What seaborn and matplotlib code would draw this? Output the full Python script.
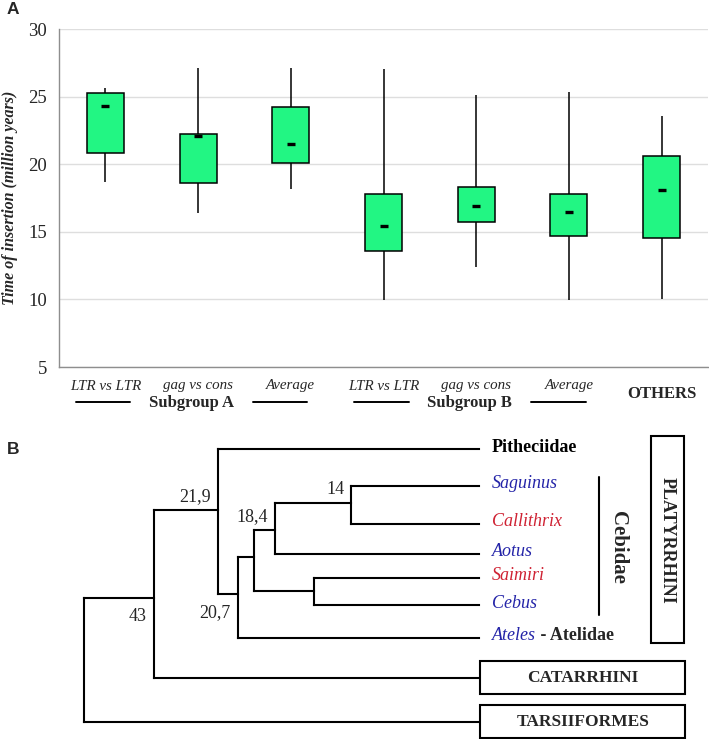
import numpy as np
import pandas as pd
import matplotlib
matplotlib.use("Agg")
import matplotlib.pyplot as plt
import matplotlib.transforms as mtransforms
from matplotlib.patches import Rectangle
import seaborn as sns

# ---------------------------------------------------------
# Panel A data (million years)
# ---------------------------------------------------------
cat_keys = ["A_ltr", "A_gag", "A_avg", "B_ltr", "B_gag", "B_avg", "others"]
cat_labels = ["LTR vs LTR", "gag vs cons", "Average",
              "LTR vs LTR", "gag vs cons", "Average", "OTHERS"]
t_min = [18.7, 16.4, 18.2, 9.93, 12.43, 9.93, 10.0]
t_q1 = [20.8, 18.6, 20.07, 13.55, 15.69, 14.7, 14.53]
t_mean = [24.3, 22.05, 21.48, 15.4, 16.9, 16.48, 18.1]
t_q3 = [25.25, 22.2, 24.2, 17.83, 18.28, 17.83, 20.62]
t_max = [25.65, 27.1, 27.1, 27.05, 25.15, 25.35, 23.57]
group_names = ["Subgroup A", "Subgroup B"]
group_members = [[0, 1, 2], [3, 4, 5]]

# ---------------------------------------------------------
# Panel B data (cladogram, drawn in figure-pixel units)
# ---------------------------------------------------------
tip_names = ["Pitheciidae", "Saguinus", "Callithrix", "Aotus", "Saimiri",
             "Cebus", "Ateles", "CATARRHINI", "TARSIIFORMES"]
tip_rows = [449, 486, 524, 554, 578, 605, 638, 678, 722]
tip_colors = ["black", "#2424a8", "#cf2233", "#2424a8", "#cf2233",
              "#2424a8", "#2424a8", "black", "black"]
node_names = ["n14", "n18", "nSC", "nCeb", "n20", "n21", "n43", "root"]
node_depth = [351, 275, 314, 254, 238, 218, 154, 84]
node_rows = [503, 530, 591, 557, 594, 510, 598, None]
node_children = [["Saguinus", "Callithrix"], ["n14", "Aotus"],
                 ["Saimiri", "Cebus"], ["n18", "nSC"], ["nCeb", "Ateles"],
                 ["Pitheciidae", "n20"], ["n21", "CATARRHINI"],
                 ["n43", "TARSIIFORMES"]]
node_ages = ["14", "18,4", "", "", "20,7", "21,9", "43", ""]
age_side = ["above", "above", "", "", "below", "above", "below", ""]
TIP_X = 479

# ---------------------------------------------------------
# Style
# ---------------------------------------------------------
sns.set_style("white")
plt.rcParams["font.family"] = ["Liberation Serif", "DejaVu Serif"]
GREEN = "#22f683"
GREY = "#8e8e8e"

W, H = 709, 739
fig = plt.figure(figsize=(W / 100, H / 100), dpi=100)

# ---------------------------------------------------------
# Panel A: boxes built from the five read values per category
# ---------------------------------------------------------
rows = []
for k, a, b, m, c, d in zip(cat_keys, t_min, t_q1, t_mean, t_q3, t_max):
    for v in (a, b, m, c, d):
        rows.append({"cat": k, "value": v})
df = pd.DataFrame(rows)

ax = fig.add_axes([59 / W, 1 - 367 / H, 649 / W, 338 / H])
sns.boxplot(data=df, x="cat", y="value", order=cat_keys, whis=(0, 100),
            width=0.4, color=GREEN, saturation=1, linecolor="black",
            linewidth=1.1, showcaps=False, fliersize=0,
            medianprops={"visible": False}, ax=ax)
sns.scatterplot(x=np.arange(len(cat_keys)), y=t_mean, marker="_", s=40,
                color="black", linewidth=2.4, legend=False, zorder=5, ax=ax)

ax.set_ylim(5, 30)
ax.set_xlim(-0.5, len(cat_keys) - 0.5)
ax.set_yticks(range(5, 31, 5))
ax.set_xticks(range(len(cat_keys)))
ax.set_xticklabels(cat_labels[:-1] + [""], fontstyle="italic", fontsize=10.8)
ax.set_xticks(np.arange(-0.5, len(cat_keys), 1), minor=True)
ax.tick_params(axis="x", which="major", length=0, pad=9)
ax.tick_params(axis="x", which="minor", length=3.5, color=GREY, width=1)
ax.tick_params(axis="y", length=3.5, color=GREY, width=1, labelsize=13.5, pad=5)
ax.yaxis.grid(True, color="#dedede", lw=1)
ax.xaxis.grid(False)
ax.set_axisbelow(True)
for s in ["top", "right"]:
    ax.spines[s].set_visible(False)
for s in ["left", "bottom"]:
    ax.spines[s].set_color(GREY)
    ax.spines[s].set_linewidth(1)
ax.set_xlabel("")
ax.set_ylabel("Time of insertion (million years)", fontstyle="italic",
              fontweight="bold", fontsize=11.5)
ax.yaxis.set_label_coords(-0.063, 0.5)

trans = mtransforms.blended_transform_factory(ax.transData, ax.transAxes)
ax.text(len(cat_keys) - 1, -0.079, cat_labels[-1], transform=trans,
        ha="center", va="center", fontweight="bold", fontsize=12)
for name, members in zip(group_names, group_members):
    cx = np.mean(members) - 0.07
    ax.text(cx, -0.106, name, transform=trans, ha="center", va="center",
            fontweight="bold", fontsize=12)
    for sgn in (-1, 1):
        ax.plot([cx + sgn * 0.66, cx + sgn * 1.25], [-0.103, -0.103],
                transform=trans, color="black", lw=1.4, clip_on=False)

fig.text(7 / W, 1 - 9 / H, "A", family="Liberation Sans", fontweight="bold",
         fontsize=12.5, ha="left", va="center")

# ---------------------------------------------------------
# Panel B: cladogram
# ---------------------------------------------------------
ax2 = fig.add_axes([0, 0, 1, 325 / H])
ax2.set_xlim(0, W)
ax2.set_ylim(H, H - 325)
ax2.axis("off")

xpos = {n: TIP_X for n in tip_names}
ypos = dict(zip(tip_names, tip_rows))
for n, d, r in zip(node_names, node_depth, node_rows):
    xpos[n] = d
    ypos[n] = r

LW = 1.5
for n, kids in zip(node_names, node_children):
    x0 = xpos[n]
    ys = [ypos[k] for k in kids]
    ax2.plot([x0, x0], [min(ys), max(ys)], color="black", lw=LW,
             solid_capstyle="projecting")
    for k in kids:
        ax2.plot([x0, xpos[k]], [ypos[k], ypos[k]], color="black", lw=LW,
                 solid_capstyle="projecting")

for n, age, side in zip(node_names, node_ages, age_side):
    if not age:
        continue
    if side == "above":
        ax2.annotate(age, (xpos[n], ypos[n]), xytext=(-5, 6.5),
                     textcoords="offset points", ha="right", va="baseline",
                     fontsize=13)
    else:
        ax2.annotate(age, (xpos[n], ypos[n]), xytext=(-5.5, -7),
                     textcoords="offset points", ha="right", va="top",
                     fontsize=13)

for name, row, col in zip(tip_names[:7], tip_rows[:7], tip_colors[:7]):
    if name == "Pitheciidae":
        ax2.text(TIP_X + 13, row - 1, name, color=col, fontweight="bold",
                 fontsize=13, va="center", ha="left")
    else:
        t = ax2.text(TIP_X + 13, row - 2, name, color=col, fontstyle="italic",
                     fontsize=13, va="center", ha="left")
        if name == "Ateles":
            ax2.annotate(" - Atelidae", xy=(1, 0.5), xycoords=t, va="center",
                         ha="left", fontweight="bold", fontsize=13)

# Cebidae bracket
ax2.plot([599, 599], [477, 615], color="black", lw=LW)
ax2.text(618, 547, "Cebidae", rotation=270, ha="center", va="center",
         fontweight="bold", fontsize=15)

# boxed clade names
ax2.add_patch(Rectangle((651, 436), 33, 207, fill=False, lw=LW, ec="black"))
ax2.text(667.5, 540, "PLATYRRHINI", rotation=270, ha="center", va="center",
         fontweight="bold", fontsize=13)
for name in tip_names[7:]:
    row = ypos[name]
    ax2.add_patch(Rectangle((TIP_X + 1, row - 17), 205, 33, fill=False,
                            lw=LW, ec="black"))
    ax2.text(TIP_X + 104, row, name, ha="center", va="center",
             fontweight="bold", fontsize=12.5)

fig.text(7 / W, 1 - 450 / H, "B", family="Liberation Sans", fontweight="bold",
         fontsize=12.5, ha="left", va="center")

fig.savefig("out.png", dpi=100)
